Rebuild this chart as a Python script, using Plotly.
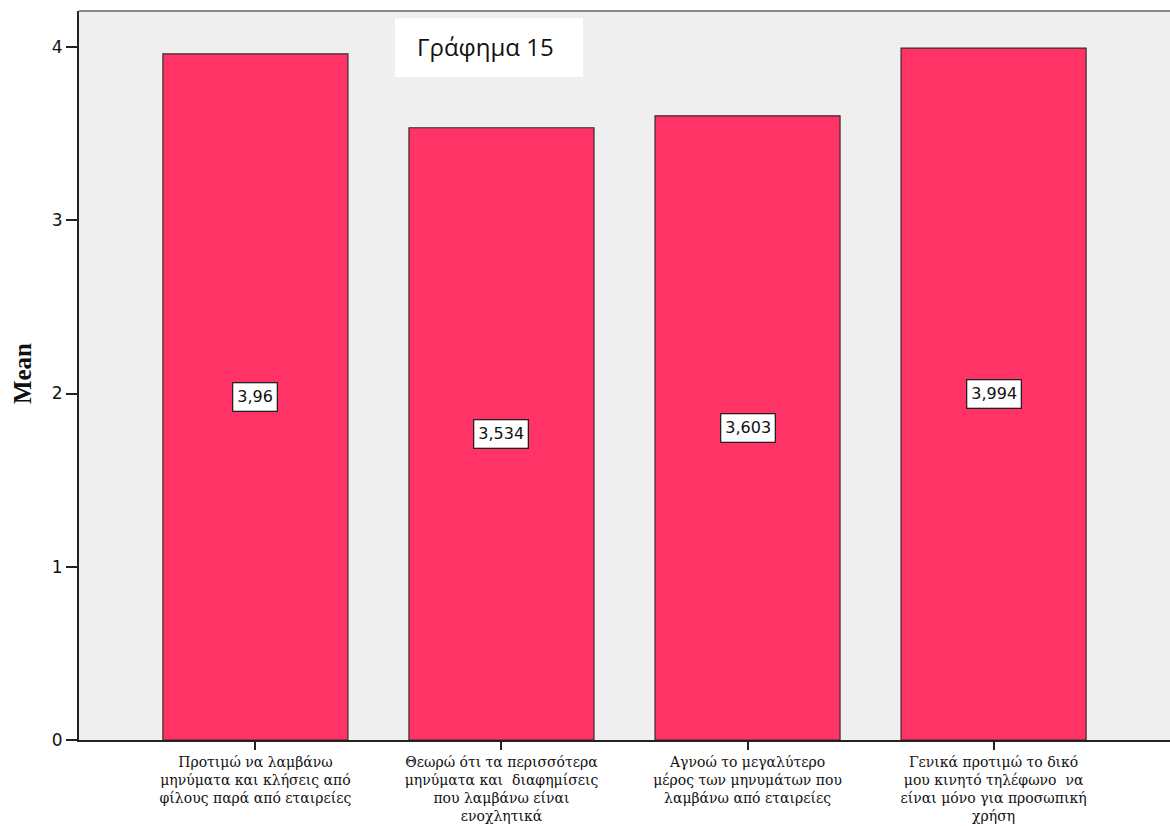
import plotly.graph_objects as go

# Mean agreement per statement
categories = [
    "Προτιμώ να λαμβάνω<br>μηνύματα και κλήσεις από<br>φίλους παρά από εταιρείες",
    "Θεωρώ ότι τα περισσότερα<br>μηνύματα και  διαφημίσεις<br>που λαμβάνω είναι<br>ενοχλητικά",
    "Αγνοώ το μεγαλύτερο<br>μέρος των μηνυμάτων που<br>λαμβάνω από εταιρείες",
    "Γενικά προτιμώ το δικό<br>μου κινητό τηλέφωνο  να<br>είναι μόνο για προσωπική<br>χρήση",
]
means = [3.96, 3.534, 3.603, 3.994]
mean_labels = ["3,96", "3,534", "3,603", "3,994"]
y_ticks = [0, 1, 2, 3, 4]

x_pos = list(range(len(categories)))

fig = go.Figure()
fig.add_trace(go.Bar(
    x=x_pos,
    y=means,
    width=0.752,
    marker=dict(color="#FF3366", line=dict(color="#3a2a2e", width=1.2)),
    hoverinfo="skip",
))

# value labels boxed at half bar height
for xi, v, lab in zip(x_pos, means, mean_labels):
    fig.add_annotation(
        x=xi, y=v / 2, xref="x", yref="y", text=lab, showarrow=False,
        font=dict(family="DejaVu Sans", size=16, color="#111"),
        bgcolor="white", bordercolor="#222", borderwidth=1.3, borderpad=4,
    )

# caption box
fig.add_shape(type="rect", xref="paper", yref="paper",
              x0=0.2896, x1=0.462, y0=0.9095, y1=0.990,
              fillcolor="white", line=dict(width=0), layer="above")
fig.add_annotation(xref="paper", yref="paper", x=0.308, y=0.951,
                   xanchor="left", yanchor="middle", text="Γράφημα 15",
                   showarrow=False,
                   font=dict(family="Open Sans", size=24, color="#111"))

# top border of the plot frame
fig.add_shape(type="line", xref="paper", yref="paper", x0=0, x1=1, y0=1, y1=1,
              line=dict(color="#8a8a8a", width=2))

# y-axis title
fig.add_annotation(xref="paper", yref="paper", x=-0.0522, y=0.502,
                   xanchor="center", yanchor="middle", textangle=-90,
                   text="<b>Mean</b>", showarrow=False,
                   font=dict(family="Liberation Serif", size=25, color="#111"))

fig.update_layout(
    width=1170, height=826,
    margin=dict(l=79, r=0, t=11, b=86),
    paper_bgcolor="white",
    plot_bgcolor="#EFEFEF",
    showlegend=False,
    xaxis=dict(
        range=[-0.717, 3.717],
        tickvals=x_pos, ticktext=categories,
        ticks="outside", ticklen=8, tickwidth=1.5, tickcolor="#222",
        showline=True, linecolor="#222", linewidth=1.5,
        showgrid=False, zeroline=False,
        tickfont=dict(family="DejaVu Serif", size=14, color="#111"),
    ),
    yaxis=dict(
        range=[0, 4.208],
        tickvals=y_ticks, ticktext=[str(t) for t in y_ticks],
        ticks="outside", ticklen=11, tickwidth=1.5, tickcolor="#222",
        showline=True, linecolor="#222", linewidth=2,
        showgrid=False, zeroline=False,
        tickfont=dict(family="DejaVu Sans", size=17, color="#111"),
    ),
)

fig.write_html("out.html")
